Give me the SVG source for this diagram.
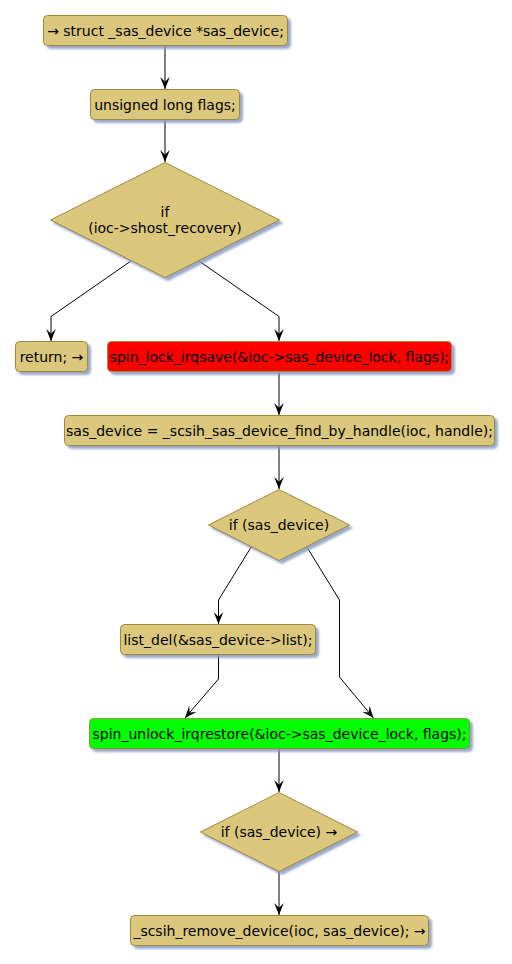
<svg xmlns="http://www.w3.org/2000/svg" width="512" height="964" viewBox="0 0 512 964">
<defs>
<filter id="sh" x="-10%" y="-20%" width="130%" height="160%">
<feGaussianBlur in="SourceAlpha" stdDeviation="1"/>
<feOffset dx="3" dy="3" result="b"/>
<feFlood flood-color="#8a9ac0" flood-opacity="0.85"/>
<feComposite in2="b" operator="in"/>
<feMerge><feMergeNode/><feMergeNode in="SourceGraphic"/></feMerge>
</filter>
<marker id="ah" markerUnits="userSpaceOnUse" markerWidth="12" markerHeight="12" viewBox="0 0 10 8" refX="10" refY="4" orient="auto">
<path d="M0,0 L10,4 L0,8 L4,4 Z" fill="#000"/>
</marker>
</defs>
<style>
.n{fill:#DBC87B;stroke:#9E8A3E;stroke-width:1;filter:url(#sh)}
.r{fill:#FF0000}
.g{fill:#00FF00}
text{font-family:"DejaVu Sans",Verdana,sans-serif;font-size:14px;fill:#000;text-anchor:middle}
.c line,.c polyline{stroke:#000;stroke-width:1;fill:none;marker-end:url(#ah)}
</style>
<g class="c">
<line x1="165" y1="45" x2="165" y2="89"/>
<line x1="165" y1="119" x2="165" y2="162"/>
<polyline points="131,261 51,316.5 51,341"/>
<polyline points="199,261 279,316.5 279,341"/>
<line x1="279" y1="371" x2="279" y2="415"/>
<line x1="279" y1="446" x2="279" y2="489"/>
<polyline points="251.5,546.5 218.5,600 218.5,624"/>
<polyline points="306.5,546.5 339.5,600 339.5,677 373.5,718"/>
<polyline points="218.5,654 218.5,679 185,718"/>
<line x1="279" y1="748" x2="279" y2="792"/>
<line x1="279" y1="871" x2="279" y2="915"/>
</g>
<g id="n1"><rect class="n" x="43.5" y="15.5" width="244" height="30" rx="4"/><text x="165.5" y="35.5">→ struct _sas_device *sas_device;</text></g>
<g id="n2"><rect class="n" x="90.5" y="89.5" width="149" height="30" rx="4"/><text x="165" y="109.5">unsigned long flags;</text></g>
<g id="n3"><polygon class="n" points="165,162.5 279.5,220 165,277.5 50.5,220"/><text x="165" y="216.5">if</text><text x="165" y="233">(ioc-&gt;shost_recovery)</text></g>
<g id="n4"><rect class="n" x="15.5" y="341.5" width="72" height="30" rx="4"/><text x="51.5" y="361.5">return; →</text></g>
<g id="n5"><rect class="n r" x="107.5" y="341.5" width="344" height="30" rx="4"/><text x="279.5" y="361.5">spin_lock_irqsave(&amp;ioc-&gt;sas_device_lock, flags);</text></g>
<g id="n6"><rect class="n" x="64.5" y="415.5" width="430" height="30" rx="4"/><text x="279.5" y="435.5">sas_device = _scsih_sas_device_find_by_handle(ioc, handle);</text></g>
<g id="n7"><polygon class="n" points="279,489.5 349.5,525 279,560.5 208.5,525"/><text x="279" y="530">if (sas_device)</text></g>
<g id="n8"><rect class="n" x="120.5" y="624.5" width="195" height="30" rx="4"/><text x="218" y="644.5">list_del(&amp;sas_device-&gt;list);</text></g>
<g id="n9"><rect class="n g" x="89.5" y="718.5" width="380" height="30" rx="4"/><text x="279.5" y="738.5">spin_unlock_irqrestore(&amp;ioc-&gt;sas_device_lock, flags);</text></g>
<g id="n10"><polygon class="n" points="279,792.5 357.5,832 279,871.5 200.5,832"/><text x="279" y="837">if (sas_device) →</text></g>
<g id="n11"><rect class="n" x="130.5" y="915.5" width="298" height="30" rx="4"/><text x="279.5" y="935.5">_scsih_remove_device(ioc, sas_device); →</text></g>
</svg>
